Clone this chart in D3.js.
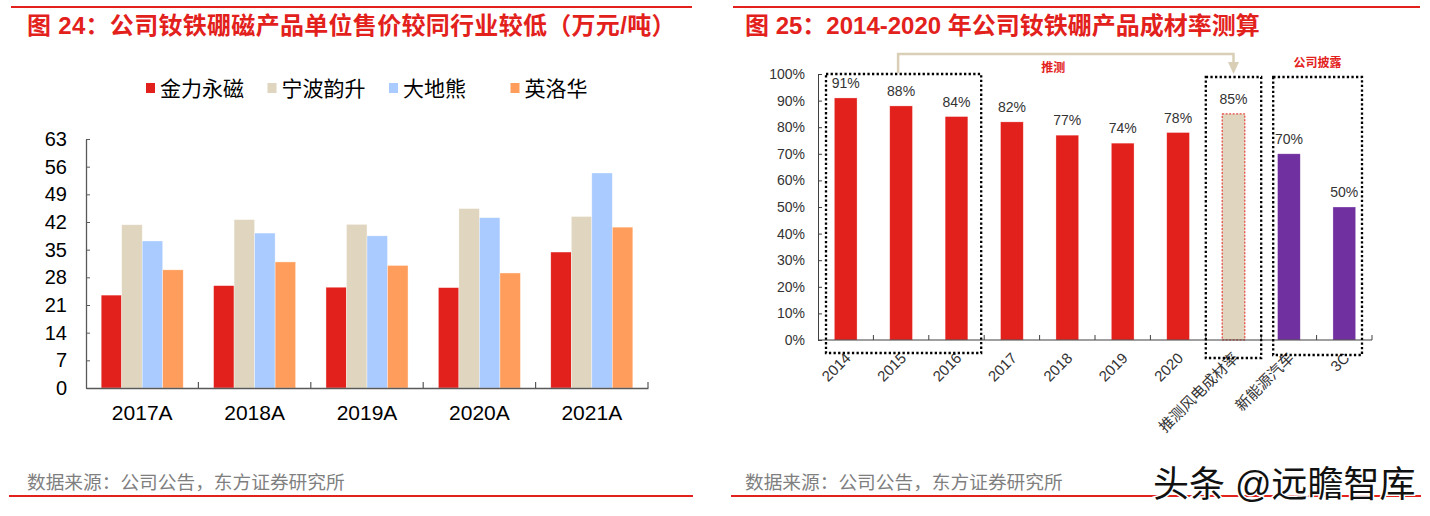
<!DOCTYPE html>
<html>
<head>
<meta charset="utf-8">
<script src="https://cdn.jsdelivr.net/npm/d3@7"></script>
<style>
  body { margin: 0; background: #fff; }
  text { font-family: "Liberation Sans", Arial, "Noto Sans CJK SC", sans-serif; }
</style>
</head>
<body>
<svg id="chart" width="1430" height="516"></svg>
<script>
// ---- left chart: unit price (万元/吨)
var years = ["2017A", "2018A", "2019A", "2020A", "2021A"];
var companies = ["金力永磁", "宁波韵升", "大地熊", "英洛华"];
var companyColors = ["#e3211c", "#e0d6bf", "#a9cbff", "#ff9e5c"];
var jinli = [23.5, 25.9, 25.5, 25.4, 34.4];
var ningbo = [41.3, 42.6, 41.4, 45.4, 43.4];
var dadixiong = [37.2, 39.2, 38.5, 43.1, 54.4];
var yingluohua = [29.9, 31.9, 31.0, 29.1, 40.7];
var priceTicks = [0, 7, 14, 21, 28, 35, 42, 49, 56, 63];

// ---- right chart: yield rate
var rateCats = ["2014", "2015", "2016", "2017", "2018", "2019", "2020", "推测风电成材率", "新能源汽车", "3C"];
var rates = [0.91, 0.88, 0.84, 0.82, 0.77, 0.74, 0.78, 0.85, 0.70, 0.50];
var rateKinds = ["calc", "calc", "calc", "calc", "calc", "calc", "calc", "guess", "disclosed", "disclosed"];
var rateTicks = [0, 0.1, 0.2, 0.3, 0.4, 0.5, 0.6, 0.7, 0.8, 0.9, 1.0];

var red = "#e3211c";
var svg = d3.select("#chart");

// red rules top and bottom
function rule(x1, x2, y) {
  svg.append("line")
    .attr("x1", x1).attr("x2", x2).attr("y1", y).attr("y2", y)
    .style("stroke", red).style("stroke-width", 2.2);
}
rule(11, 692, 7);
rule(733, 1420, 7);
rule(9, 693, 496);
rule(731, 1421, 496);

// titles
svg.append("text").attr("x", 27).attr("y", 34)
  .text("图 24：公司钕铁硼磁产品单位售价较同行业较低（万元/吨）")
  .attr("fill", red).style("font-size", "24px").style("font-weight", "bold")
  .style("letter-spacing", "0.3px");
svg.append("text").attr("x", 745).attr("y", 34)
  .text("图 25：2014-2020 年公司钕铁硼产品成材率测算")
  .attr("fill", red).style("font-size", "24px").style("font-weight", "bold");

// footers
[27, 745].forEach(function(x){
  svg.append("text").attr("x", x).attr("y", 489)
    .text("数据来源：公司公告，东方证券研究所")
    .attr("fill", "#7f7f7f").style("font-size", "18.7px");
});

// ================= left chart =================
var series = [jinli, ningbo, dadixiong, yingluohua];
var yL = d3.scaleLinear().domain([0, 63]).range([388, 139]);
var x0 = d3.scaleBand().domain(years).range([86, 648]);
var x1 = d3.scaleBand().domain(companies).range([0, x0.bandwidth()]).paddingOuter(0.74);

var left = svg.append("g");

// legend
var legend = left.append("g").attr("transform", "translate(146,88)");
companies.forEach(function(c, i){
  var item = legend.append("g").attr("transform", "translate(" + (i * 121.5) + ",0)");
  item.append("rect").attr("x", 0).attr("y", -5).attr("width", 9).attr("height", 10)
    .attr("fill", companyColors[i]);
  item.append("text").attr("x", 14).attr("dy", "0.36em").text(c)
    .attr("fill", "#000").style("font-size", "21px");
});

// bars
years.forEach(function(yr, j){
  var grp = left.append("g").attr("transform", "translate(" + x0(yr) + ",0)");
  companies.forEach(function(c, i){
    grp.append("rect")
      .attr("x", x1(c))
      .attr("y", yL(series[i][j]))
      .attr("width", x1.bandwidth())
      .attr("height", yL(0) - yL(series[i][j]))
      .attr("fill", companyColors[i])
      .style("stroke", "#fff").style("stroke-width", 0.6).style("stroke-opacity", 0.6);
  });
});

// y axis
var yAxisL = left.append("g").attr("transform", "translate(86,0)")
  .call(d3.axisLeft(yL).tickValues(priceTicks).tickSizeInner(-4).tickSizeOuter(0).tickPadding(19));
yAxisL.select(".domain").style("stroke", "#595959").style("stroke-width", 1.3);
yAxisL.selectAll(".tick line").style("stroke", "#595959");
yAxisL.selectAll("text").style("font-size", "20px").attr("fill", "#000");

// x axis
var xAxisL = left.append("g").attr("transform", "translate(0,388)")
  .call(d3.axisBottom(x0).tickSize(0).tickPadding(17));
xAxisL.select(".domain").style("stroke", "#595959").style("stroke-width", 1.3);
xAxisL.selectAll("text").style("font-size", "21px").attr("fill", "#000");
years.forEach(function(yr){
  var bx = x0(yr) + x0.bandwidth();
  left.append("line").attr("x1", bx).attr("x2", bx).attr("y1", 388).attr("y2", 382)
    .style("stroke", "#595959").style("stroke-width", 1.2);
});

// ================= right chart =================
var kindColor = { calc: "#e3211c", guess: "#e0d6bf", disclosed: "#7030a0" };
var yR = d3.scaleLinear().domain([0, 1]).range([340, 74]);
var xT = d3.scaleBand().domain(rateCats).range([818, 1372]);
var xR = d3.scaleBand().domain(rateCats).range([818, 1372]).paddingInner(0.59).paddingOuter(0.295);
var step = xT.step();
var right = svg.append("g");

// bars
rateCats.forEach(function(c, i){
  var bar = right.append("rect")
    .attr("x", xR(c))
    .attr("y", yR(rates[i]))
    .attr("width", xR.bandwidth())
    .attr("height", yR(0) - yR(rates[i]))
    .attr("fill", kindColor[rateKinds[i]]);
  if (rateKinds[i] == "guess") {
    bar.style("stroke", red).style("stroke-width", 1).style("stroke-dasharray", "2,1.5");
  } else {
    bar.style("stroke", "#fff").style("stroke-width", 0.6).style("stroke-opacity", 0.5);
  }
  right.append("text")
    .attr("x", xR(c) + xR.bandwidth() / 2)
    .attr("y", yR(rates[i]) - 10)
    .text(d3.format(".0%")(rates[i]))
    .attr("fill", "#333").style("text-anchor", "middle").style("font-size", "14px");
});

// y axis
var yAxisR = right.append("g").attr("transform", "translate(818,0)")
  .call(d3.axisLeft(yR).tickValues(rateTicks).tickFormat(d3.format(".0%"))
    .tickSizeInner(-4).tickSizeOuter(0).tickPadding(13));
yAxisR.select(".domain").style("stroke", "#404040");
yAxisR.selectAll(".tick line").style("stroke", "#404040");
yAxisR.selectAll("text").style("font-size", "14px").attr("fill", "#333");

// x axis
right.append("line").attr("x1", 818).attr("x2", 1372).attr("y1", 340).attr("y2", 340)
  .style("stroke", "#404040").style("stroke-width", 1.2);
rateCats.forEach(function(c){
  var bx = xT(c) + step;
  right.append("line").attr("x1", bx).attr("x2", bx).attr("y1", 340).attr("y2", 335)
    .style("stroke", "#404040");
  right.append("text")
    .attr("transform", "translate(" + (xT(c) + step / 2 + 6) + ",359) rotate(-45)")
    .text(c)
    .attr("fill", "#333").style("text-anchor", "end").style("font-size", "15px");
});

// dotted boxes
function dotBox(x1, x2, y1, y2) {
  right.append("rect").attr("x", x1).attr("y", y1)
    .attr("width", x2 - x1).attr("height", y2 - y1)
    .style("fill", "none").style("stroke", "#000")
    .style("stroke-width", 2.3).style("stroke-dasharray", "2.3,2.3");
}
dotBox(xT("2014") + 8, xT("2016") + step - 3, yR(1), 353);
dotBox(xT("推测风电成材率"), xT("推测风电成材率") + step, yR(1) + 3, 358);
var box3L = xT("新能源汽车") + 12, box3R = xT("3C") + step - 10;
dotBox(box3L, box3R, yR(1) + 3, 355);

// arrow from history to guess
var ax1 = xT("2015") + step / 2 - 3;
var ax2 = xT("推测风电成材率") + step / 2;
right.append("path")
  .attr("d", "M" + ax1 + "," + (yR(1) - 1) + "V54H" + ax2 + "V64")
  .style("fill", "none").style("stroke", "#d9cfb6").style("stroke-width", 2.5);
right.append("path")
  .attr("d", "M" + (ax2 - 5.5) + ",62L" + (ax2 + 5.5) + ",62L" + ax2 + ",74Z")
  .style("fill", "#d9cfb6");

right.append("text").attr("x", xT("2018") + step / 2 - 14).attr("y", 72)
  .text("推测").attr("fill", red).style("text-anchor", "middle")
  .style("font-size", "12px").style("font-weight", "bold");
right.append("text").attr("x", (box3L + box3R) / 2).attr("y", 67)
  .text("公司披露").attr("fill", red).style("text-anchor", "middle")
  .style("font-size", "12px").style("font-weight", "bold");

// watermark
svg.append("text").attr("x", 1153).attr("y", 497)
  .text("头条 @远瞻智库")
  .attr("fill", "#111").style("font-size", "36px")
  .style("stroke", "#fff").style("stroke-width", 3).style("paint-order", "stroke");
</script>
</body>
</html>
